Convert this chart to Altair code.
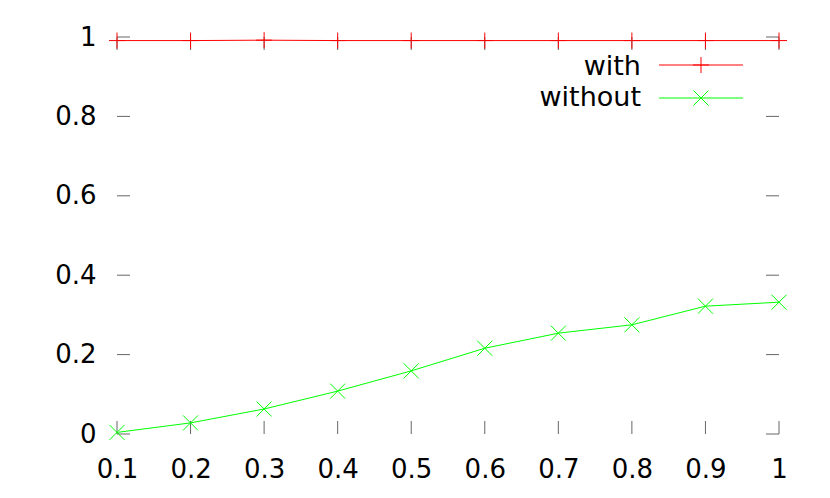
import altair as alt
import pandas as pd

# data
x_vals = [0.1, 0.2, 0.3, 0.4, 0.5, 0.6, 0.7, 0.8, 0.9, 1.0]
with_vals = [0.991, 0.991, 0.992, 0.991, 0.991, 0.991, 0.991, 0.991, 0.991, 0.991]
without_vals = [0.004, 0.028, 0.063, 0.108, 0.159, 0.216, 0.254, 0.275, 0.322, 0.332]
series_names = ["with", "without"]
x_ticks = [0.1, 0.2, 0.3, 0.4, 0.5, 0.6, 0.7, 0.8, 0.9, 1.0]
y_ticks = [0.0, 0.2, 0.4, 0.6, 0.8, 1.0]

RED = "#ff0000"
GREEN = "#00ff00"
TICK = "#666666"
FONT = "DejaVu Sans"
PLUS = "M-1,0L1,0M0,-1L0,1"
CROSS = "M-1,-1L1,1M-1,1L1,-1"

df_with = pd.DataFrame({"x": x_vals, "y": with_vals})
df_without = pd.DataFrame({"x": x_vals, "y": without_vals})
df_xt = pd.DataFrame({"x": x_ticks})
df_yt = pd.DataFrame({"y": y_ticks})

xs = alt.Scale(domain=[0.1, 1.0], nice=False, zero=False)
ys = alt.Scale(domain=[0.0, 1.0], nice=False, zero=False)

xaxis = alt.Axis(values=x_ticks, format="~g", grid=False, domain=False, ticks=False,
                 tickSize=0, labelPadding=22, labelFontSize=26, labelFont=FONT,
                 labelColor="black", title=None, labelFlush=False)
yaxis = alt.Axis(values=y_ticks, format="~g", grid=False, domain=False, ticks=False,
                 tickSize=0, labelPadding=21, labelFontSize=26, labelFont=FONT,
                 labelColor="black", title=None, labelFlush=False)

base_axes = alt.Chart(df_xt).mark_point(opacity=0).encode(
    x=alt.X("x:Q", scale=xs, axis=xaxis),
    y=alt.Y("x:Q", scale=ys, axis=yaxis),
)

# tick marks (gnuplot style, inward, mirrored)
bottom_ticks = alt.Chart(df_xt).mark_rule(color=TICK, strokeWidth=1, y2Offset=-13).encode(
    x=alt.X("x:Q", scale=xs), y=alt.datum(0.0), y2=alt.datum(0.0))
top_ticks = alt.Chart(df_xt).mark_rule(color=TICK, strokeWidth=1, y2Offset=13).encode(
    x=alt.X("x:Q", scale=xs), y=alt.datum(1.0), y2=alt.datum(1.0))
left_ticks = alt.Chart(df_yt).mark_rule(color=TICK, strokeWidth=1, x2Offset=13).encode(
    y=alt.Y("y:Q", scale=ys), x=alt.datum(0.1), x2=alt.datum(0.1))
right_ticks = alt.Chart(df_yt).mark_rule(color=TICK, strokeWidth=1, x2Offset=-13).encode(
    y=alt.Y("y:Q", scale=ys), x=alt.datum(1.0), x2=alt.datum(1.0))

line_with = alt.Chart(df_with).mark_line(color=RED, strokeWidth=1).encode(
    x=alt.X("x:Q", scale=xs), y=alt.Y("y:Q", scale=ys))
pts_with = alt.Chart(df_with).mark_point(shape=PLUS, size=256, filled=False,
                                         color=RED, strokeWidth=1, opacity=1).encode(
    x=alt.X("x:Q", scale=xs), y=alt.Y("y:Q", scale=ys))
line_without = alt.Chart(df_without).mark_line(color=GREEN, strokeWidth=1).encode(
    x=alt.X("x:Q", scale=xs), y=alt.Y("y:Q", scale=ys))
pts_without = alt.Chart(df_without).mark_point(shape=CROSS, size=225, filled=False,
                                               color=GREEN, strokeWidth=1, opacity=1).encode(
    x=alt.X("x:Q", scale=xs), y=alt.Y("y:Q", scale=ys))

# manual legend (gnuplot style)
leg_with = pd.DataFrame({"name": [series_names[0]]})
leg_without = pd.DataFrame({"name": [series_names[1]]})
lw_text = alt.Chart(leg_with).mark_text(align="right", baseline="alphabetic", fontSize=27,
                                        font=FONT, color="black").encode(
    text="name:N", x=alt.value(524), y=alt.value(38))
lwo_text = alt.Chart(leg_without).mark_text(align="right", baseline="alphabetic", fontSize=27,
                                            font=FONT, color="black").encode(
    text="name:N", x=alt.value(524), y=alt.value(69))
lw_line = alt.Chart(leg_with).mark_rule(color=RED, strokeWidth=1).encode(
    x=alt.value(542), x2=alt.value(626), y=alt.value(28))
lw_pt = alt.Chart(leg_with).mark_point(shape=PLUS, size=256, filled=False, color=RED,
                                       strokeWidth=1, opacity=1).encode(
    x=alt.value(584), y=alt.value(28))
lwo_line = alt.Chart(leg_without).mark_rule(color=GREEN, strokeWidth=1).encode(
    x=alt.value(542), x2=alt.value(626), y=alt.value(61))
lwo_pt = alt.Chart(leg_without).mark_point(shape=CROSS, size=225, filled=False, color=GREEN,
                                           strokeWidth=1, opacity=1).encode(
    x=alt.value(584), y=alt.value(61))

chart = alt.layer(
    base_axes, bottom_ticks, top_ticks, left_ticks, right_ticks,
    line_with, line_without, pts_with, pts_without,
    lw_text, lwo_text, lw_line, lw_pt, lwo_line, lwo_pt,
).properties(
    width=662, height=397,
    autosize=alt.AutoSizeParams(type="none"),
    padding={"left": 109, "top": 29, "right": 43, "bottom": 56},
).configure(background="white").configure_view(
    stroke="transparent", strokeWidth=0
).configure_axis(domain=False, grid=False, ticks=False)

chart.save("out.html", embed_options={"renderer": "svg", "actions": False})
